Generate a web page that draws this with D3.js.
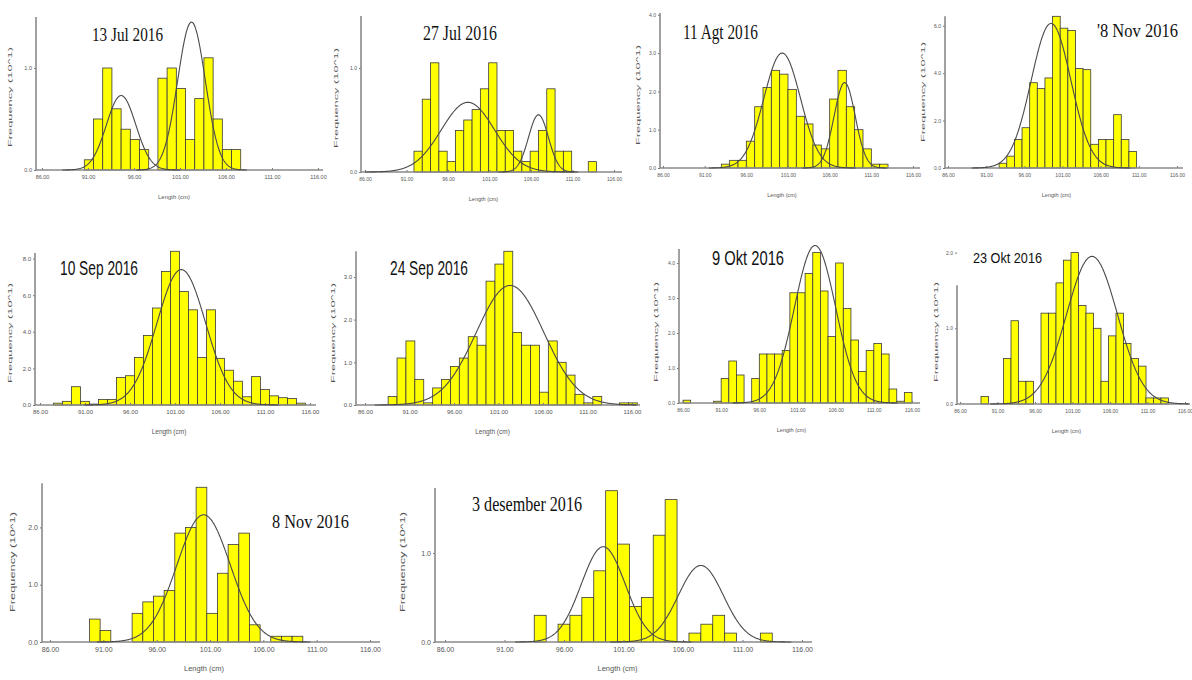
<!DOCTYPE html>
<html>
<head>
<meta charset="utf-8">
<script src="https://cdn.jsdelivr.net/npm/d3@7"></script>
<style>
  body { margin: 0; background: #fff; }
</style>
</head>
<body>
<div id="chart"></div>
<script>
"use strict"

// values: frequency in units of 10^1, 1 cm length classes
var xTicks = [86, 91, 96, 101, 106, 111, 116];
var titles = ["13 Jul 2016", "27 Jul 2016", "11 Agt 2016", "'8 Nov 2016",
              "10 Sep 2016", "24 Sep 2016", "9 Okt 2016", "23 Okt 2016",
              "8 Nov 2016", "3 desember 2016"];
var binStarts = [90.6, 91.9, 93.0, 92.7, 87.5, 88.6, 86.0, 88.8, 89.7, 93.5];

var freqJul13 = [0.1, 0.5, 1.0, 0.6, 0.4, 0.3, 0.2, 0, 0.9, 1.0, 0.8, 0.3, 0.7, 1.1, 0.5, 0.2, 0.2];
var freqJul27 = [0.2, 0.7, 1.05, 0.2, 0.1, 0.4, 0.5, 0.6, 0.8, 1.05, 0.4, 0.4, 0.2, 0.1, 0.2, 0.4, 0.8, 0.2, 0.2, 0, 0, 0.1];
var freqAgt11 = [0.1, 0.2, 0.2, 0.7, 1.6, 2.1, 2.55, 2.45, 2.05, 1.35, 1.15, 0.6, 0.5, 1.8, 2.55, 1.6, 1.0, 0.5, 0.1, 0.1];
var freqNov8a = [0.2, 0.5, 1.2, 1.7, 3.6, 3.35, 3.8, 6.4, 5.9, 5.8, 4.2, 4.15, 1.0, 1.2, 1.2, 2.25, 1.2, 0.7];
var freqSep10 = [0.1, 0.2, 1.0, 0.2, 0.05, 0.3, 0.3, 1.5, 1.6, 2.6, 3.8, 5.3, 7.3, 8.4, 6.2, 5.2, 2.6, 5.2, 2.55, 1.9, 1.3, 0.45, 1.55, 0.85, 0.5, 0.4, 0.35, 0.1];
var freqSep24 = [0.2, 1.1, 1.5, 0.6, 0.05, 0.4, 0.6, 0.9, 1.1, 1.6, 1.4, 2.9, 3.3, 3.6, 1.7, 1.4, 1.4, 0.3, 1.5, 1.0, 0.7, 0.25, 0.05, 0.2, 0, 0, 0.05, 0.05];
var freqOkt9 = [0.08, 0, 0, 0, 0.05, 0.7, 1.2, 0.8, 0, 0.7, 1.4, 1.4, 1.4, 1.5, 3.15, 3.15, 3.7, 4.3, 3.2, 1.9, 4.0, 2.7, 1.8, 0.9, 1.5, 1.7, 1.4, 0.4, 0.05, 0.3];
var freqOkt23 = [0.1, 0, 0, 0.6, 1.1, 0.3, 0.3, 0, 1.2, 1.2, 1.6, 1.9, 2.0, 1.3, 1.2, 1.0, 0.3, 0.9, 1.2, 0.8, 0.6, 0.5, 0.08, 0.08, 0.08];
var freqNov8b = [0.4, 0.2, 0, 0, 0.5, 0.7, 0.8, 0.9, 1.9, 2.0, 2.7, 0.5, 1.2, 1.7, 1.9, 0.3, 0, 0.1, 0.1, 0.1];
var freqDes3 = [0.3, 0, 0.2, 0.3, 0.5, 0.8, 1.7, 1.1, 0.4, 0.5, 1.2, 1.6, 0, 0.1, 0.2, 0.3, 0.1, 0, 0, 0.1];

// fitted normal components: [mean, sd, peak height]
var fitJul13 = [[94.6, 1.6, 0.73], [102.25, 1.5, 1.45]];
var fitJul27 = [[98.4, 3.2, 0.67], [106.9, 1.2, 0.55]];
var fitAgt11 = [[100.3, 2.2, 3.0], [107.8, 1.27, 2.23]];
var fitNov8a = [[99.5, 2.6, 6.1]];
var fitSep10 = [[101.7, 2.7, 7.4]];
var fitSep24 = [[102.3, 3.8, 2.8]];
var fitOkt9 = [[103.3, 2.7, 4.5]];
var fitOkt23 = [[103.6, 3.4, 1.95]];
var fitNov8b = [[100.4, 2.5, 2.22]];
var fitDes3 = [[99.3, 1.85, 1.07], [107.5, 1.9, 0.86]];

var yTicks = [[0, 1], [0, 1], [0, 1, 2, 3, 4], [0, 2, 4, 6], [0, 2, 4, 6, 8],
              [0, 1, 2, 3], [0, 1, 2, 3, 4], [0, 1, 2], [0, 1, 2], [0, 1]];
var yTops = [1.5, 1.5, 4.05, 6.4, 8.3, 3.6, 4.4, 1.57, 2.77, 1.73];

var freqs = [freqJul13, freqJul27, freqAgt11, freqNov8a, freqSep10, freqSep24, freqOkt9, freqOkt23, freqNov8b, freqDes3];
var fits = [fitJul13, fitJul27, fitAgt11, fitNov8a, fitSep10, fitSep24, fitOkt9, fitOkt23, fitNov8b, fitDes3];

var width = 1192, height = 680;

// where each little panel sits on the page
var layout = [
  {ax: 36,  x0: 42,  x1: 318,  base: 170, unit: 102,  xEnd: 323,  fs: 5.5, tx: 92,   ty: 41,  tw: 71,  tsize: 19, serif: true,  labDx: -24, labCy: 97},
  {ax: 361, x0: 365, x1: 614,  base: 172, unit: 104,  xEnd: 622,  fs: 5,   tx: 423,  ty: 40,  tw: 74,  tsize: 20, serif: true,  labDx: -23, labCy: 98},
  {ax: 660, x0: 663, x1: 913,  base: 168, unit: 38.3, xEnd: 920,  fs: 5,   tx: 683,  ty: 39,  tw: 75,  tsize: 20, serif: true,  labDx: -20, labCy: 95},
  {ax: 945, x0: 948, x1: 1177, base: 168, unit: 23.7, xEnd: 1183, fs: 5,   tx: 1097, ty: 37,  tw: 81,  tsize: 18, serif: true,  labDx: -20, labCy: 92},
  {ax: 35,  x0: 40,  x1: 310,  base: 405, unit: 18.3, xEnd: 316,  fs: 6,   tx: 60,   ty: 275, tw: 78,  tsize: 20, serif: false, labDx: -23, labCy: 333},
  {ax: 356, x0: 365, x1: 632,  base: 405, unit: 42.7, xEnd: 640,  fs: 6,   tx: 390,  ty: 275, tw: 78,  tsize: 20, serif: false, labDx: -21, labCy: 333},
  {ax: 679, x0: 683, x1: 912,  base: 403, unit: 35,   xEnd: 920,  fs: 5,   tx: 712,  ty: 265, tw: 72,  tsize: 20, serif: false, labDx: -21, labCy: 332},
  {ax: 957, x0: 960, x1: 1185, base: 404, unit: 75.7, xEnd: 1190, fs: 5,   tx: 973,  ty: 263, tw: 69,  tsize: 15, serif: false, labDx: -19, labCy: 332},
  {ax: 42,  x0: 50,  x1: 370,  base: 642, unit: 57.3, xEnd: 380,  fs: 7,   tx: 272,  ty: 528, tw: 77,  tsize: 19, serif: true,  labDx: -27, labCy: 562},
  {ax: 435, x0: 445, x1: 802,  base: 642, unit: 89,   xEnd: 812,  fs: 7,   tx: 472,  ty: 511, tw: 110, tsize: 20, serif: true,  labDx: -30, labCy: 562}
];

var svg = d3.select("#chart")
            .append("svg")
              .attr("width", width)
              .attr("height", height)
              .style("background", "#fff");

layout.forEach(function(p, i) {
  var x = d3.scaleLinear().domain([86, 116]).range([p.x0, p.x1]);
  var y = d3.scaleLinear().domain([0, 1]).range([p.base, p.base - p.unit]);
  var g = svg.append("g");

  // bars
  var bins = freqs[i].map(function(v, k) { return {lo: binStarts[i] + k, v: v}; })
                     .filter(function(d) { return d.v > 0; });
  g.selectAll("rect")
    .data(bins)
    .join("rect")
      .attr("x", d => x(d.lo))
      .attr("y", d => y(d.v))
      .attr("width", d => x(d.lo + 1) - x(d.lo))
      .attr("height", d => y(0) - y(d.v))
      .attr("fill", "#ffff00")
      .attr("stroke", "#3a3a3a")
      .attr("stroke-width", 0.8);

  // x axis
  var xa = g.append("g")
    .attr("transform", "translate(0," + p.base + ")")
    .call(d3.axisBottom(x).tickValues(xTicks).tickFormat(d3.format(".2f")).tickSizeInner(-2).tickSizeOuter(0).tickPadding(5));
  xa.select(".domain").remove();
  xa.selectAll("line").attr("stroke", "#777");
  xa.selectAll("text").attr("font-family", "Arial, 'Liberation Sans', sans-serif").attr("font-size", p.fs).attr("fill", "#555");
  g.append("line")
    .attr("x1", p.ax).attr("x2", p.xEnd)
    .attr("y1", p.base).attr("y2", p.base)
    .attr("stroke", "#8a8a8a").attr("stroke-width", 1.6);

  // y axis
  var ya = g.append("g")
    .attr("transform", "translate(" + p.ax + ",0)")
    .call(d3.axisLeft(y).tickValues(yTicks[i]).tickFormat(d3.format(".1f")).tickSizeInner(2).tickSizeOuter(0).tickPadding(2));
  ya.select(".domain").remove();
  ya.selectAll("line").attr("stroke", "#777");
  ya.selectAll("text").attr("font-family", "Arial, 'Liberation Sans', sans-serif").attr("font-size", p.fs).attr("fill", "#555");
  g.append("line")
    .attr("x1", p.ax).attr("x2", p.ax)
    .attr("y1", p.base).attr("y2", y(yTops[i]))
    .attr("stroke", "#8a8a8a").attr("stroke-width", 1.6);

  // fitted curves
  var line = d3.line().x(d => x(d[0])).y(d => y(d[1]));
  fits[i].forEach(function(f) {
    var lo = Math.max(86, f[0] - 4 * f[1]), hi = Math.min(116.5, f[0] + 4 * f[1]);
    var pts = d3.range(lo, hi + 0.001, 0.05).map(function(t) {
      return [t, f[2] * Math.exp(-(t - f[0]) * (t - f[0]) / (2 * f[1] * f[1]))];
    });
    g.append("path")
      .attr("d", line(pts))
      .attr("fill", "none")
      .attr("stroke", "#4a4a4a")
      .attr("stroke-width", 1.1);
  });

  // axis titles
  g.append("text")
    .attr("x", (p.x0 + p.x1) / 2 - 6)
    .attr("y", p.base + 29)
    .attr("text-anchor", "middle")
    .attr("font-family", "Arial, 'Liberation Sans', sans-serif")
    .attr("font-size", p.fs + 0.5)
    .attr("fill", "#555")
    .text("Length (cm)");

  g.append("text")
    .attr("transform", "translate(" + (p.ax + p.labDx) + "," + p.labCy + ") rotate(-90)")
    .attr("text-anchor", "middle")
    .attr("font-family", "Arial, 'Liberation Sans', sans-serif")
    .attr("font-size", p.fs)
    .attr("fill", "#555")
    .attr("textLength", 100)
    .attr("lengthAdjust", "spacingAndGlyphs")
    .text("Frequency (10^1)");

  // date label
  g.append("text")
    .attr("x", p.tx)
    .attr("y", p.ty)
    .attr("font-family", p.serif ? "'Liberation Serif', 'Times New Roman', serif" : "'Liberation Sans', Arial, sans-serif")
    .attr("font-size", p.tsize)
    .attr("fill", "#111")
    .attr("textLength", p.tw)
    .attr("lengthAdjust", "spacingAndGlyphs")
    .text(titles[i]);
});
</script>
</body>
</html>
